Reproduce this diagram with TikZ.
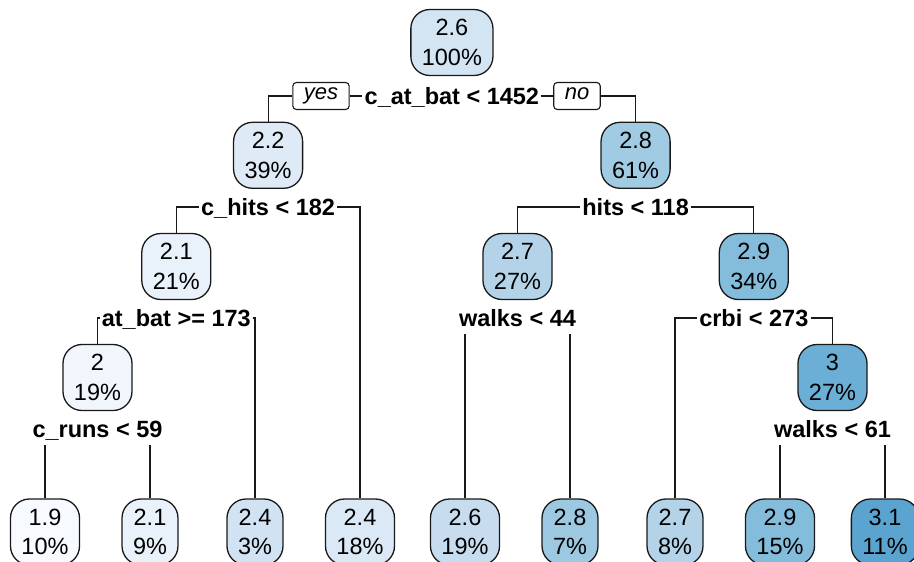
\documentclass[tikz,border=0pt]{standalone}
\usepackage{fontspec}
\setmainfont{Liberation Sans}
% fill colours of the nodes, light to dark blue by fitted value
\definecolor{cA}{HTML}{F7FBFF}
\definecolor{cB}{HTML}{F1F6FD}
\definecolor{cC}{HTML}{E9F1FA}
\definecolor{cD}{HTML}{DEEBF7}
\definecolor{cE}{HTML}{DBE8F5}
\definecolor{cF}{HTML}{D1E3F3}
\definecolor{cG}{HTML}{D3E4F3}
\definecolor{cH}{HTML}{C8DCF0}
\definecolor{cI}{HTML}{B4D3E9}
\definecolor{cJ}{HTML}{A1CBE2}
\definecolor{cK}{HTML}{9CC9E1}
\definecolor{cL}{HTML}{84BCDB}
\definecolor{cM}{HTML}{6BAED6}
\definecolor{cN}{HTML}{5CA4D0}
\begin{document}
\begin{tikzpicture}[x=1pt,y=-1pt,
  box/.style={draw=black!90, line width=1.3pt, rounded corners=19pt, align=center,
    inner xsep=11pt, inner ysep=4pt, minimum height=66pt,
    font=\fontsize{23.5}{29.5}\selectfont},
  split/.style={font=\fontsize{23.5}{28}\selectfont\bfseries, inner xsep=2pt,
    inner ysep=7.5pt, text height=16.8pt, text depth=0pt},
  tag/.style={draw=black!90, line width=1.1pt, rounded corners=3.5pt, fill=white,
    font=\fontsize{22}{26}\selectfont\itshape, inner xsep=11pt,
    text height=11.5pt, text depth=4.5pt, minimum height=27pt},
  edge/.style={line width=1.2pt, draw=black!90}]
\useasboundingbox (0,0) rectangle (914,562);

% inner nodes
\node[box, fill=cG] (n1) at (451.9,42.5)  {2.6\\100\%};
\node[box, fill=cD] (n2) at (268.1,155.3) {2.2\\39\%};
\node[box, fill=cJ] (n3) at (635.6,155.3) {2.8\\61\%};
\node[box, fill=cC] (n4) at (176.3,266.5) {2.1\\21\%};
\node[box, fill=cI] (n5) at (517.5,266.5) {2.7\\27\%};
\node[box, fill=cL] (n6) at (753.8,266.5) {2.9\\34\%};
\node[box, fill=cB] (n7) at (97.5,377.5)  {2\\19\%};
\node[box, fill=cM] (n8) at (832.5,377.5) {3\\27\%};

% leaves
\node[box, fill=cA] (l1) at (45,532)  {1.9\\10\%};
\node[box, fill=cC] (l2) at (150,532) {2.1\\9\%};
\node[box, fill=cF] (l3) at (255,532) {2.4\\3\%};
\node[box, fill=cE] (l4) at (360,532) {2.4\\18\%};
\node[box, fill=cH] (l5) at (465,532) {2.6\\19\%};
\node[box, fill=cK] (l6) at (570,532) {2.8\\7\%};
\node[box, fill=cI] (l7) at (675,532) {2.7\\8\%};
\node[box, fill=cL] (l8) at (780,532) {2.9\\15\%};
\node[box, fill=cN] (l9) at (885,532) {3.1\\11\%};

% split labels
\node[split] (s1) at (451.9,96)  {c\_at\_bat < 1452};
\node[split] (s2) at (268.1,207) {c\_hits < 182};
\node[split] (s3) at (635.6,207) {hits < 118};
\node[split] (s4) at (176.3,318) {at\_bat >= 173};
\node[split] (s5) at (517.5,318) {walks < 44};
\node[split] (s6) at (753.8,318) {crbi < 273};
\node[split] (s7) at (97.5,429)  {c\_runs < 59};
\node[split] (s8) at (832.5,429) {walks < 61};

% yes / no tags at the root split
\node[tag] (yes) at (321,96) {yes};
\node[tag] (no)  at (577,96) {no};

% connectors
\draw[edge] (n2.north) |- (yes.west);
\draw[edge] (yes.east) -- (s1.west);
\draw[edge] (s1.east) -- (no.west);
\draw[edge] (no.east) -| (n3.north);

\draw[edge] (n4.north) |- (s2.west);
\draw[edge] (s2.east) -| (l4.north);

\draw[edge] (n5.north) |- (s3.west);
\draw[edge] (s3.east) -| (n6.north);

\draw[edge] (n7.north) |- (s4.west);
\draw[edge] (s4.east) -| (l3.north);

\draw[edge] (l5.north) -- (l5.north |- s5.south);
\draw[edge] (l6.north) -- (l6.north |- s5.south);

\draw[edge] (l7.north) |- (s6.west);
\draw[edge] (s6.east) -| (n8.north);

\draw[edge] (l1.north) -- (l1.north |- s7.south);
\draw[edge] (l2.north) -- (l2.north |- s7.south);

\draw[edge] (l8.north) -- (l8.north |- s8.south);
\draw[edge] (l9.north) -- (l9.north |- s8.south);
\end{tikzpicture}
\end{document}
